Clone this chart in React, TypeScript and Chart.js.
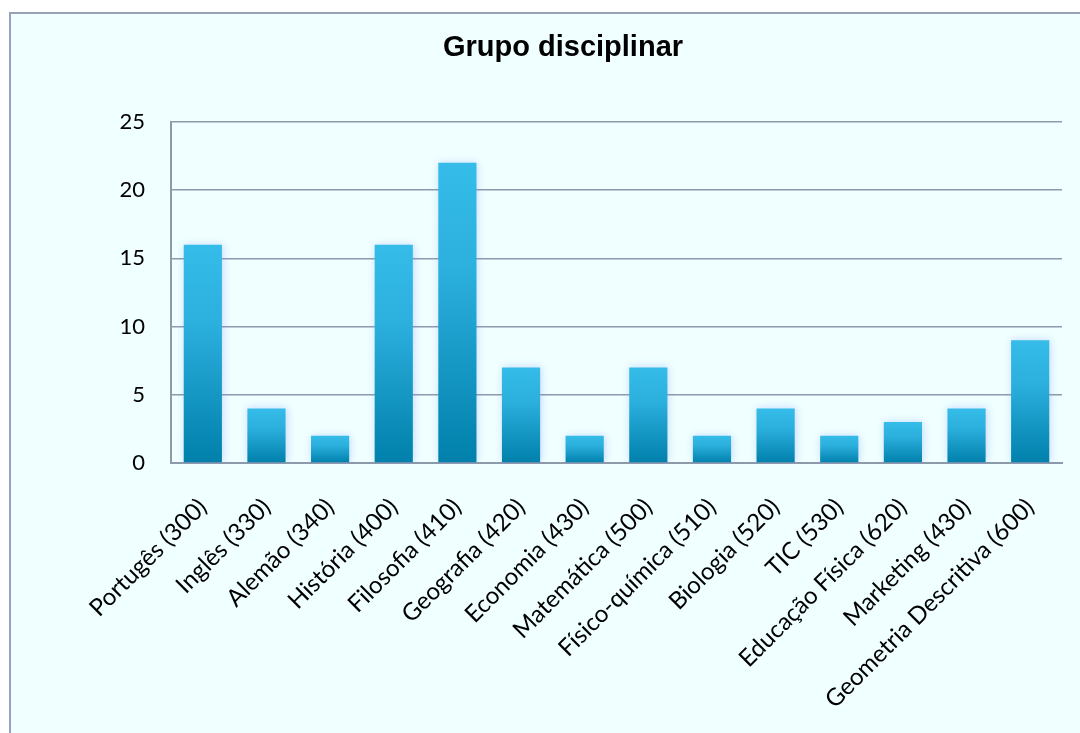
import React, { useEffect, useRef } from "react";
import { Chart, registerables } from "chart.js";

Chart.register(...registerables);

const categories = [
  "Portugês (300)",
  "Inglês (330)",
  "Alemão (340)",
  "História (400)",
  "Filosofia (410)",
  "Geografia (420)",
  "Economia (430)",
  "Matemática (500)",
  "Físico-química (510)",
  "Biologia (520)",
  "TIC (530)",
  "Educação Física (620)",
  "Marketing (430)",
  "Geometria Descritiva (600)",
];
const values = [16, 4, 2, 16, 22, 7, 2, 7, 2, 4, 2, 3, 4, 9];
const yTicks = [0, 5, 10, 15, 20, 25];

const GRID = "#8E99AB";
const LABEL_FONT = "Lato, 'Open Sans', sans-serif";

const shadowPlugin = {
  id: "barShadow",
  beforeDatasetsDraw(chart: any) {
    const ctx = chart.ctx;
    ctx.save();
    ctx.shadowColor = "rgba(110,140,255,0.35)";
    ctx.shadowBlur = 8;
    ctx.shadowOffsetX = 1;
    ctx.shadowOffsetY = 0;
  },
  afterDatasetsDraw(chart: any) {
    chart.ctx.restore();
  },
};

export default function App() {
  const ref = useRef<HTMLCanvasElement | null>(null);

  useEffect(() => {
    if (!ref.current) return;
    const chart = new Chart(ref.current, {
      type: "bar",
      data: {
        labels: categories,
        datasets: [
          {
            data: values,
            categoryPercentage: 1,
            barPercentage: 0.6,
            borderWidth: 0,
            backgroundColor: (c: any) => {
              const ch = c.chart;
              if (!ch.chartArea || !ch.scales.y) return "#1BA0CF";
              const v = values[c.dataIndex] ?? 0;
              const top = ch.scales.y.getPixelForValue(v);
              const bot = ch.scales.y.getPixelForValue(0);
              if (!isFinite(top) || !isFinite(bot) || top === bot) return "#1BA0CF";
              const g = ch.ctx.createLinearGradient(0, top, 0, bot);
              g.addColorStop(0, "#35BCE8");
              g.addColorStop(0.35, "#2CB0DE");
              g.addColorStop(1, "#0080AB");
              return g;
            },
          },
        ],
      },
      options: {
        responsive: false,
        animation: false,
        maintainAspectRatio: false,
        layout: { padding: { left: 64, right: 18, top: 0, bottom: 0 } },
        plugins: {
          legend: { display: false },
          tooltip: { enabled: false },
          title: {
            display: true,
            text: "Grupo disciplinar",
            color: "#000",
            font: { family: "'Liberation Sans', Arial, sans-serif", size: 29, weight: "bold" },
            padding: { top: 31, bottom: 56 },
          },
        },
        scales: {
          x: {
            grid: { display: false },
            border: { display: true, color: GRID, width: 2 },
            ticks: {
              color: "#000",
              font: { family: LABEL_FONT, size: 24 },
              minRotation: 45,
              maxRotation: 45,
              autoSkip: false,
              padding: 22,
            },
            afterFit: (s: any) => {
              s.height = 270;
            },
          },
          y: {
            min: 0,
            max: 25,
            afterBuildTicks: (s: any) => {
              s.ticks = yTicks.map((v) => ({ value: v }));
            },
            grid: { color: GRID, lineWidth: 1.5, drawTicks: false },
            border: { display: true, color: GRID, width: 2 },
            ticks: {
              color: "#000",
              font: { family: LABEL_FONT, size: 22 },
              padding: 26,
            },
            afterFit: (s: any) => {
              s.width = 107;
            },
          },
        },
      },
      plugins: [shadowPlugin],
    });
    return () => chart.destroy();
  }, []);

  return (
    <>
      <div
        style={{
          position: "fixed",
          left: 9,
          top: 12,
          width: 1200,
          height: 900,
          boxSizing: "border-box",
          border: "2px solid #98A2B6",
          background: "#F0FFFF",
        }}
      />
      <canvas
        ref={ref}
        width={1080}
        height={733}
        style={{ position: "fixed", left: 0, top: 0, width: 1080, height: 733 }}
      />
    </>
  );
}
